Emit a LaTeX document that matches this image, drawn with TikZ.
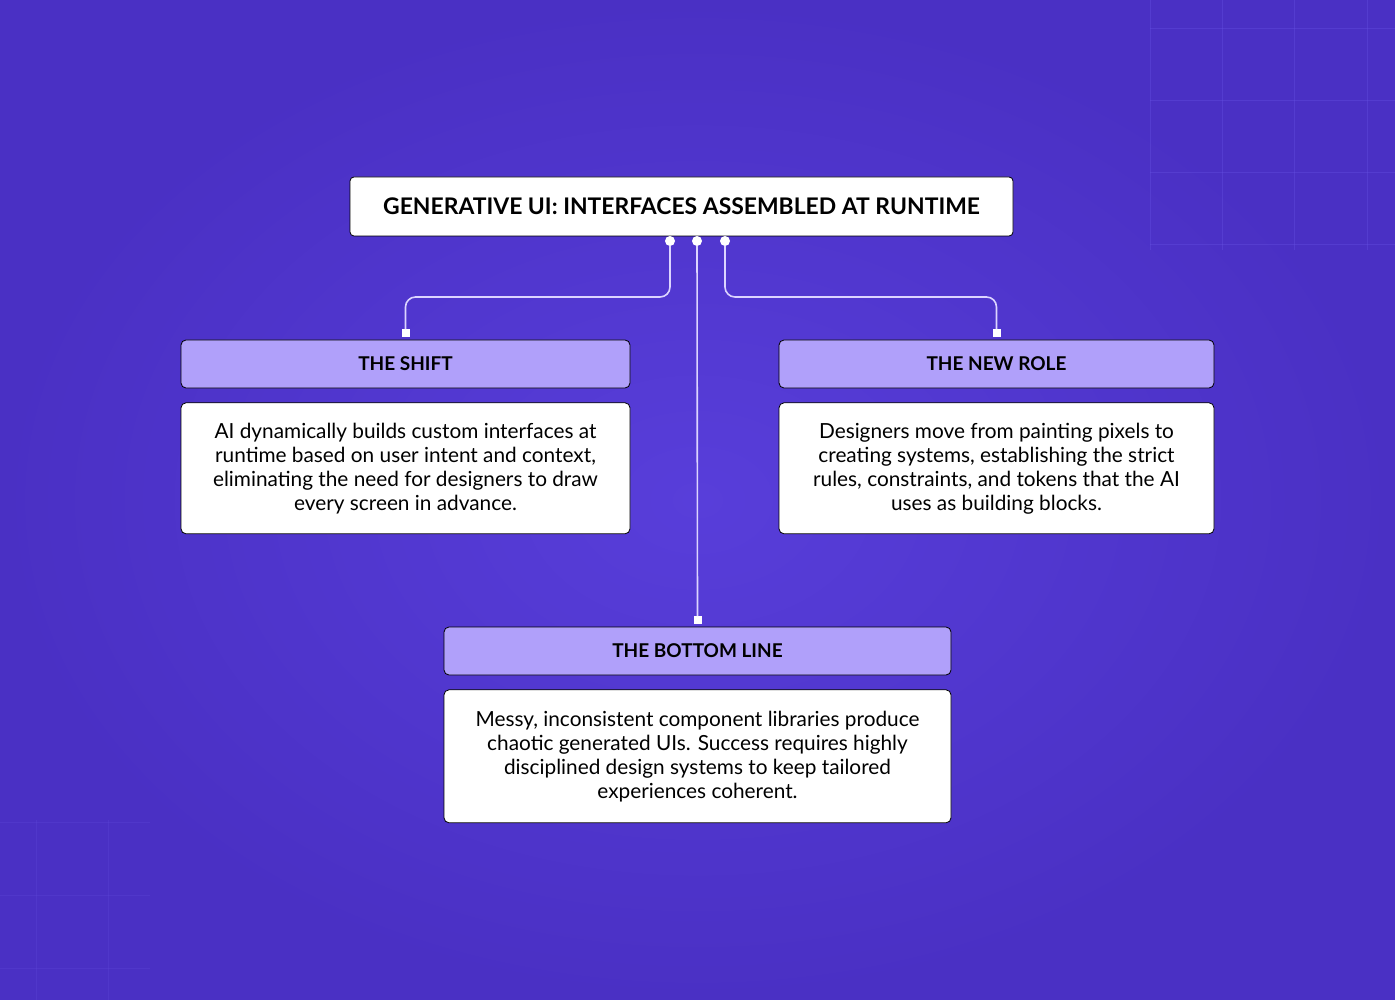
\documentclass[tikz,border=0pt]{standalone}
\usepackage{fontspec}
\setmainfont{Lato}
\usetikzlibrary{positioning}

\definecolor{bgmid}{RGB}{88,62,218}
\definecolor{bgedge}{RGB}{74,48,196}
\definecolor{headfill}{RGB}{176,160,250}
\definecolor{wire}{RGB}{220,212,255}
\definecolor{gridline}{RGB}{104,84,228}

\begin{document}
\begin{tikzpicture}[x=1pt, y=-1pt, node distance=14pt]

\tikzstyle{title}=[rectangle,draw=black,fill=white,rounded corners=4pt,line width=0.8pt,minimum width=663pt,minimum height=59pt,font=\fontsize{22.9}{26}\selectfont\bfseries]
\tikzstyle{head}=[rectangle,draw=black,fill=headfill,rounded corners=5pt,line width=0.8pt,minimum height=48pt,font=\fontsize{19}{22}\selectfont\bfseries]
\tikzstyle{body}=[rectangle,draw=black,fill=white,rounded corners=5pt,line width=0.8pt,align=center,font=\fontsize{20.8}{24}\selectfont]
\tikzstyle{dot}=[circle,fill=white,inner sep=0pt,minimum size=10pt]
\tikzstyle{sq}=[rectangle,fill=white,inner sep=0pt,minimum size=8pt]
\tikzstyle{wire}=[draw=wire,line width=1.6pt,rounded corners=10pt]

% background
\shade[inner color=bgmid, outer color=bgedge] (0,0) rectangle (1395,1000);
\useasboundingbox (0,0) rectangle (1395,1000);
\foreach \gx in {1150,1222,1294,1367} \draw[gridline,opacity=0.35] (\gx,0) -- (\gx,250);
\foreach \gy in {28,100,172,244} \draw[gridline,opacity=0.35] (1150,\gy) -- (1395,\gy);
\foreach \gx in {36,108} \draw[gridline,opacity=0.2] (\gx,820) -- (\gx,1000);
\foreach \gy in {822,895,968} \draw[gridline,opacity=0.2] (0,\gy) -- (150,\gy);

\node (title) [title] at (681.5,206.5) {GENERATIVE UI: INTERFACES ASSEMBLED AT RUNTIME};

\node (shift) [head,minimum width=449pt] at (405.5,364) {THE SHIFT};
\node (shifttext) [body,minimum width=449pt,minimum height=131pt,below=14pt of shift] {AI dynamically builds custom interfaces at\\runtime based on user intent and context,\\eliminating the need for designers to draw\\every screen in advance.};

\node (role) [head,minimum width=435pt] at (996.5,364) {THE NEW ROLE};
\node (roletext) [body,minimum width=435pt,minimum height=131pt,below=14pt of role] {Designers move from painting pixels to\\creating systems, establishing the strict\\rules, constraints, and tokens that the AI\\uses as building blocks.};

\node (bottom) [head,minimum width=507pt] at (697.5,651) {THE BOTTOM LINE};
\node (bottomtext) [body,minimum width=507pt,minimum height=133pt,below=14pt of bottom] {Messy, inconsistent component libraries produce\\chaotic generated UIs. Success requires highly\\disciplined design systems to keep tailored\\experiences coherent.};

% connector ends
\node (dl) [dot] at (670,241) {};
\node (dm) [dot] at (697,241) {};
\node (dr) [dot] at (725,241) {};
\node (sl) [sq,above=2pt of shift] {};
\node (sr) [sq,above=2pt of role] {};
\node (sm) [sq,above=2pt of bottom] {};

% Connections
\draw[wire] (dl) -- ++(0,56) -| (sl);
\draw[wire] (dr) -- ++(0,56) -| (sr);
\draw[wire] (dm) -- (sm);

\end{tikzpicture}
\end{document}
